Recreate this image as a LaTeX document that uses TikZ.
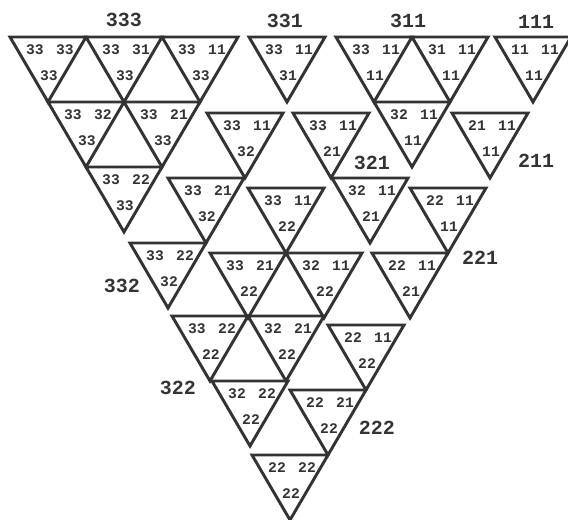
\documentclass[tikz,border=0pt]{standalone}
\usepackage{fontspec}
\newfontfamily\monofont{Liberation Mono}
\definecolor{ink}{HTML}{333333}
\tikzset{
  tri/.style={draw=ink, line width=2.2pt, line join=miter},
  small/.style={text=ink, font=\monofont\bfseries\fontsize{11}{11}\selectfont, inner sep=0pt},
  big/.style={text=ink, font=\monofont\bfseries\fontsize{15}{15}\selectfont, inner sep=0pt}
}
% #1 name, #2 x, #3 y, #4 top-left label, #5 top-right label, #6 bottom label
\newcommand\tri[6]{%
  \draw[tri] (#2,#3) coordinate (#1tl) -- ++(76,0) coordinate (#1tr) -- ++(-38,65) coordinate (#1ap) -- cycle;
  \node[small] (#1a) at ($(#1tl)+(25,13)$) {#4};
  \node[small] (#1b) at ($(#1tl)+(55,13)$) {#5};
  \node[small] (#1c) at ($(#1tl)+(39,39)$) {#6};
}
\usetikzlibrary{calc}
\begin{document}
\begin{tikzpicture}[x=0.75pt,y=-0.75pt]
\useasboundingbox (0,0) rectangle (568,520);
\begin{scope}
\clip (0,0) rectangle (568,520);
% group 333
\tri{t1}{10}{37}{33}{33}{33}
\tri{t2}{86}{37}{33}{31}{33}
\tri{t3}{162}{37}{33}{11}{33}
\tri{t4}{48}{102}{33}{32}{33}
\tri{t5}{124}{102}{33}{21}{33}
\tri{t6}{86}{167}{33}{22}{33}
% 331
\tri{t7}{249}{37}{33}{11}{31}
% 311
\tri{t8}{336}{37}{33}{11}{11}
\tri{t9}{412}{37}{31}{11}{11}
\tri{t10}{374}{102}{32}{11}{11}
% 111
\tri{t11}{495}{37}{11}{11}{11}
% second level
\tri{t12}{207}{113}{33}{11}{32}
\tri{t13}{293}{113}{33}{11}{21}
\tri{t14}{452}{113}{21}{11}{11}
\tri{t15}{332}{178}{32}{11}{21}
\tri{t16}{410}{188}{22}{11}{11}
\tri{t17}{372}{253}{22}{11}{21}
\tri{t18}{168}{178}{33}{21}{32}
\tri{t19}{248}{188}{33}{11}{22}
\tri{t20}{130}{243}{33}{22}{32}
\tri{t21}{210}{253}{33}{21}{22}
\tri{t22}{286}{253}{32}{11}{22}
\tri{t23}{172}{316}{33}{22}{22}
\tri{t24}{248}{316}{32}{21}{22}
\tri{t25}{328}{325}{22}{11}{22}
\tri{t26}{212}{381}{32}{22}{22}
\tri{t27}{290}{390}{22}{21}{22}
\tri{t28}{252}{455}{22}{22}{22}
\end{scope}
% group labels
\node[big] (L333) at (124,20) {333};
\node[big] (L331) at (285,21) {331};
\node[big] (L311) at (408,21) {311};
\node[big] (L111) at (536,22) {111};
\node[big] (L321) at (372,163) {321};
\node[big] (L211) at (536,161) {211};
\node[big] (L221) at (480,258) {221};
\node[big] (L332) at (122,286) {332};
\node[big] (L322) at (178,388) {322};
\node[big] (L222) at (377,428) {222};
\end{tikzpicture}
\end{document}
